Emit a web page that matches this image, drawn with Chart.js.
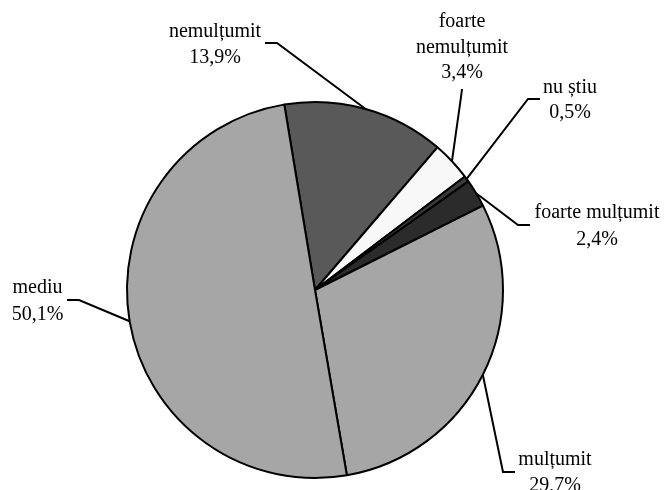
<!DOCTYPE html>
<html><head><meta charset="utf-8">
<script src="https://cdn.jsdelivr.net/npm/chart.js@4"></script>
<style>html,body{margin:0;padding:0;background:#fff;}</style>
</head><body>
<canvas id="c" width="666" height="490"></canvas>
<script>
const categories = ['nemulțumit', 'foarte nemulțumit', 'nu știu', 'foarte mulțumit', 'mulțumit', 'mediu'];
const percentages = [13.9, 3.4, 0.5, 2.4, 29.7, 50.1];
const sliceColors = ['#595959', '#f8f8f8', '#3a3a3a', '#2b2b2b', '#a6a6a6', '#a6a6a6'];

// label placement (layout only)
const labelLayout = [
  {x: 215, baselines: [37, 63], split: false, path: [[265, 43], [277, 43]]},
  {x: 462, baselines: [27, 53, 78], split: true, path: [[462, 89], [461, 97]]},
  {x: 570, baselines: [93, 118], split: false, path: [[540, 99], [528, 99]]},
  {x: 597, baselines: [218, 245], split: false, path: [[530, 225], [518, 225]]},
  {x: 555, baselines: [465, 491], split: false, path: [[515, 472], [503, 472]]},
  {x: 37.5, baselines: [293, 320], split: false, path: [[67, 300], [79, 300]]}
];

const fmt = v => v.toFixed(1).replace('.', ',') + '%';

const labelPlugin = {
  id: 'pieLabels',
  afterDraw(chart) {
    const ctx = chart.ctx;
    const meta = chart.getDatasetMeta(0);
    ctx.save();
    ctx.strokeStyle = '#000';
    ctx.lineWidth = 2;
    ctx.lineJoin = 'miter';
    meta.data.forEach((arc, i) => {
      const L = labelLayout[i];
      const mid = (arc.startAngle + arc.endAngle) / 2;
      const ex = arc.x + Math.cos(mid) * arc.outerRadius;
      const ey = arc.y + Math.sin(mid) * arc.outerRadius;
      ctx.beginPath();
      ctx.moveTo(L.path[0][0], L.path[0][1]);
      for (let k = 1; k < L.path.length; k++) ctx.lineTo(L.path[k][0], L.path[k][1]);
      ctx.lineTo(ex, ey);
      ctx.stroke();
      const lines = (L.split ? categories[i].split(' ') : [categories[i]]).concat([fmt(percentages[i])]);
      ctx.fillStyle = '#000';
      ctx.font = '20px "Liberation Serif", "Times New Roman", serif';
      ctx.textAlign = 'center';
      ctx.textBaseline = 'alphabetic';
      lines.forEach((t, j) => ctx.fillText(t, L.x, L.baselines[j]));
    });
    ctx.restore();
  }
};

new Chart(document.getElementById('c'), {
  type: 'pie',
  data: {
    labels: categories,
    datasets: [{
      data: percentages,
      backgroundColor: sliceColors,
      borderColor: '#000',
      borderWidth: 2
    }]
  },
  options: {
    responsive: false,
    animation: false,
    rotation: -9.4,
    layout: {padding: {left: 126, right: 162, top: 101, bottom: 11}},
    plugins: {legend: {display: false}, tooltip: {enabled: false}}
  },
  plugins: [labelPlugin]
});
</script>
</body></html>
